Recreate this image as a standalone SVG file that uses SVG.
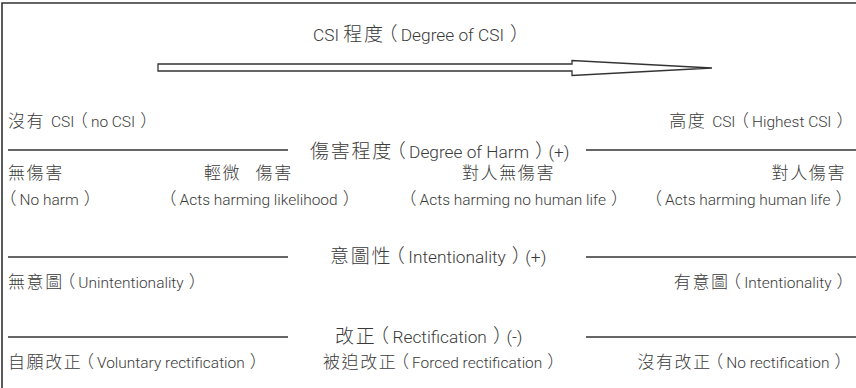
<svg xmlns="http://www.w3.org/2000/svg" width="856" height="388" viewBox="0 0 856 388">
<style>
text{font-family:"Noto Sans CJK TC",sans-serif;font-weight:300;font-size:17px;fill:#3a3a3a}
.big{font-size:19px}
.c{letter-spacing:0.094em}
.l{font-family:"Roboto","Liberation Sans",sans-serif;font-weight:300;font-size:0.91em}
.o{font-feature-settings:"halt";letter-spacing:0.18em}
.e{font-feature-settings:"halt"}
.r{text-anchor:end}
.ln{stroke:#333;stroke-width:1.6;fill:none}
</style>
<rect width="856" height="388" fill="#fff"/>
<g id="frame"><path class="ln" d="M2,388 V3 H856" stroke-width="2"/></g>
<g id="title"><text class="big" x="313" y="40.5"><tspan class="l">CSI </tspan><tspan class="c">程度</tspan><tspan class="o" dx="3">（</tspan><tspan class="l">Degree of CSI</tspan><tspan class="e" dx="6">）</tspan></text></g>
<g id="arrow"><polygon points="158,64 572,64 572,60.5 712,68 572,75.5 572,71 158,71" fill="#fff" stroke="#333" stroke-width="1.3"/></g>
<g id="csi-low"><text x="8" y="126.5"><tspan class="c">沒有</tspan><tspan class="l" dx="2"> CSI</tspan><tspan class="o" dx="5">（</tspan><tspan class="l">no CSI</tspan><tspan class="e" dx="5">）</tspan></text></g>
<g id="csi-high"><text class="r" x="845" y="126.5"><tspan class="c">高度</tspan><tspan class="l" dx="2"> CSI</tspan><tspan class="o" dx="5">（</tspan><tspan class="l">Highest CSI</tspan><tspan class="e" dx="5">）</tspan></text></g>
<g id="connectors">
<line class="ln" x1="8" y1="150" x2="288" y2="150"/>
<line class="ln" x1="586" y1="150" x2="856" y2="150"/>
<line class="ln" x1="8" y1="257" x2="288" y2="257"/>
<line class="ln" x1="586" y1="257" x2="856" y2="257"/>
<line class="ln" x1="8" y1="337" x2="288" y2="337"/>
<line class="ln" x1="586" y1="337" x2="856" y2="337"/>
</g>
<g id="harm"><text class="big" x="310" y="157.5"><tspan class="c">傷害程度</tspan><tspan class="o" dx="3">（</tspan><tspan class="l">Degree of Harm</tspan><tspan class="e" dx="6">）</tspan><tspan class="l" dx="4">(+)</tspan></text></g>
<g id="no-harm"><text x="8" y="178.5"><tspan class="c">無傷害</tspan></text><text x="8" y="205"><tspan class="o">（</tspan><tspan class="l">No harm</tspan><tspan class="e" dx="5">）</tspan></text></g>
<g id="harm-likelihood"><text x="204" y="178.5"><tspan class="c" style="word-spacing:9px">輕微 傷害</tspan></text><text x="168" y="205"><tspan class="o">（</tspan><tspan class="l">Acts harming likelihood</tspan><tspan class="e" dx="5">）</tspan></text></g>
<g id="harm-no-life"><text x="462" y="178.5"><tspan class="c">對人無傷害</tspan></text><text x="408" y="205"><tspan class="o">（</tspan><tspan class="l">Acts harming no human life</tspan><tspan class="e" dx="5">）</tspan></text></g>
<g id="harm-life"><text class="r" x="846" y="178.5"><tspan class="c">對人傷害</tspan></text><text class="r" x="844" y="205"><tspan class="o">（</tspan><tspan class="l">Acts harming human life</tspan><tspan class="e" dx="5">）</tspan></text></g>
<g id="intent"><text class="big" x="330" y="262.5"><tspan class="c">意圖性</tspan><tspan class="o" dx="3">（</tspan><tspan class="l">Intentionality</tspan><tspan class="e" dx="6">）</tspan><tspan class="l" dx="4">(+)</tspan></text></g>
<g id="unintentional"><text x="8" y="287.5"><tspan class="c">無意圖</tspan><tspan class="o" dx="3">（</tspan><tspan class="l">Unintentionality</tspan><tspan class="e" dx="5">）</tspan></text></g>
<g id="intentional"><text class="r" x="845" y="287.5"><tspan class="c">有意圖</tspan><tspan class="o" dx="3">（</tspan><tspan class="l">Intentionality</tspan><tspan class="e" dx="5">）</tspan></text></g>
<g id="rect"><text class="big" x="335" y="342.5"><tspan class="c">改正</tspan><tspan class="o" dx="3">（</tspan><tspan class="l">Rectification</tspan><tspan class="e" dx="6">）</tspan><tspan class="l" dx="4">(-)</tspan></text></g>
<g id="voluntary"><text x="8" y="368"><tspan class="c">自願改正</tspan><tspan class="o" dx="3">（</tspan><tspan class="l">Voluntary rectification</tspan><tspan class="e" dx="5">）</tspan></text></g>
<g id="forced"><text x="323" y="368"><tspan class="c">被迫改正</tspan><tspan class="o" dx="3">（</tspan><tspan class="l">Forced rectification</tspan><tspan class="e" dx="5">）</tspan></text></g>
<g id="no-rect"><text class="r" x="843" y="368"><tspan class="c">沒有改正</tspan><tspan class="o" dx="3">（</tspan><tspan class="l">No rectification</tspan><tspan class="e" dx="5">）</tspan></text></g>
</svg>
